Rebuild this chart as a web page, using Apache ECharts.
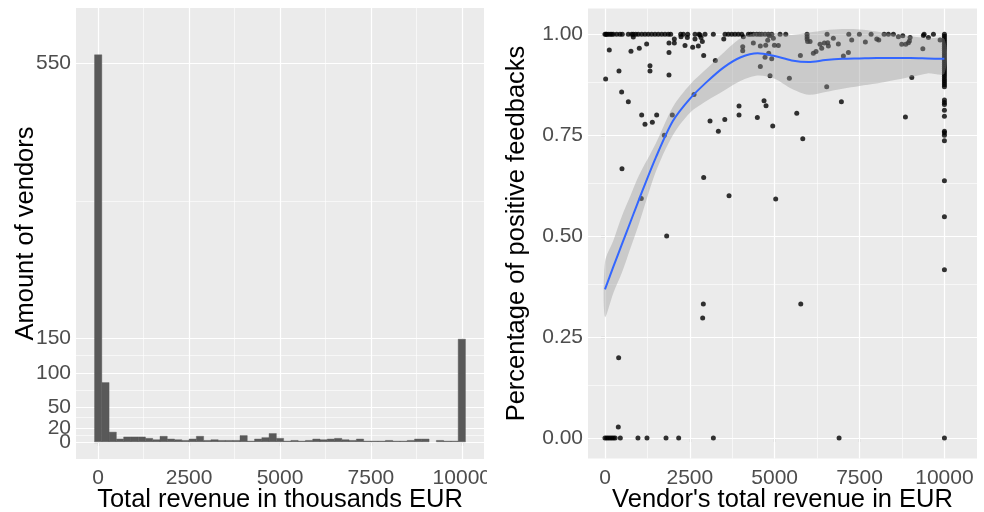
<!DOCTYPE html>
<html><head><meta charset="utf-8">
<script src="https://cdn.jsdelivr.net/npm/echarts@6/dist/echarts.min.js"></script>
<style>html,body{margin:0;padding:0;background:#fff}#c{width:984px;height:512px}</style>
</head><body><div id="c"></div>
<script>
// ---------- Left: histogram of total revenue (thousands EUR) ----------
const binCenters = [0,200,400,600,800,1000,1200,1400,1600,1800,2000,2200,2400,2600,2800,3000,3200,3400,3600,3800,4000,4200,4400,4600,4800,5000,5200,5400,5600,5800,6000,6200,6400,6600,6800,7000,7200,7400,7600,7800,8000,8200,8400,8600,8800,9000,9200,9400,9600,9800,10000];
const binCounts = [562,86,14,4,7,7,7,5,3,8, 4,3,2,4,8,2,3,2,2,2, 9,1,4,6,12,5,1,2,1,2, 4,3,4,5,3,2,4,1,1,1, 2,1,1,2,4,4,0,2,1,1, 149];
const binWidth = 200;
const histXTicks = [0,2500,5000,7500,10000];
const histXMinor = [1250,3750,6250,8750];
const histYTicks = [0,20,50,100,150,550];
const histYMinor = [10,35,75,125,350];

// ---------- Right: scatter of revenue vs share of positive feedback ----------
const topRowRevenue = [0,29,50,97,150,197,245,345,442,510,687,787,834,905,981,1082,1179,1276,1376,1474,1571,1671,1768,1866,1936,2231,2308,2437,2653,2770,2947,3192,3537,3634,3734,3831,3929,4029,4223,4294,4371,4471,4548,4618,4716,4813,4913,5158,5326,5953,6543,7183,7495,7840,8223,8350,8497,9402,9676];
const zeroRowRevenue = [0,50,100,150,200,250,300,452,972,1238,1798,2171,3193,6897];
const maxRevenueShares = [1,.995,.99,.985,.98,.975,.97,.965,.96,.955,.95,.945,.94,.935,.93,.925,.92,.915,.91,.905,.9,.895,.89,.885,.88,.875,.87,.837,.831,.826,.812,.797,.76,.756,.75,.736,.637,.548,.417,0];
const maxRevenue = 10000;
const otherVendors = [[20,.889],[127,.961],[413,.909],[491,.857],[688,.833],[766,.958],[834,.993],[1011,.965],[1081,.800],[1179,.777],[1228,.976],[1326,.922],[1326,.909],[1395,.782],[1523,.800],[501,.667],[1070,.593],[1748,.750],[1818,.500],[1886,.899],[1886,.955],[1886,.978],[1984,.800],[2043,.978],[2043,.988],[2240,.994],[2358,.972],[2426,.992],[2584,.968],[2623,.851],[2652,.988],[2750,.971],[2800,.998],[2830,.992],[2868,.982],[2908,.947],[2908,.645],[2898,.332],[2878,.297],[3095,.785],[3251,.935],[3340,.760],[3530,.789],[3500,.988],[3655,.600],[3949,.822],[3949,.800],[4058,.969],[4058,.959],[4076,.994],[4371,.978],[4489,.794],[4577,.920],[4577,.971],[4686,.835],[4745,.823],[4716,.943],[4735,.973],[4795,.985],[4824,.953],[4843,.996],[4863,.897],[4913,.939],[4942,.773],[4961,.990],[4991,.973],[5030,.592],[5108,.972],[5432,.891],[5650,.804],[5757,.947],[5768,.332],[5827,.741],[5954,.994],[5954,.988],[5970,.982],[6042,.982],[6139,.953],[6218,.957],[6336,.975],[6385,.965],[6463,.978],[6532,.870],[6562,.979],[6581,.971],[6728,.990],[6876,.976],[6965,.833],[7024,.946],[7171,.955],[7269,.986],[7671,.981],[8007,.988],[8066,.986],[8644,.994],[8743,.975],[8773,.996],[8851,.795],[8861,.975],[8939,.979],[8969,.983],[8989,.992],[9039,.893],[9364,.964],[9381,.997],[9529,.992],[9873,.986],[403,.199],[393,.027]];

const smoothRevenue = [0,250,500,750,1000,1500,2000,2500,3000,3500,4000,4500,5000,5500,6000,6500,7000,7500,8000,8500,9000,9500,10000];
const smoothFit   = [.368,.425,.48,.535,.59,.695,.785,.84,.882,.918,.943,.953,.946,.935,.931,.936,.939,.940,.941,.941,.941,.940,.939];
const smoothUpper = [.436,.49,.55,.60,.65,.73,.82,.875,.915,.955,.99,1.004,1.003,.998,1.004,1.010,1.013,1.012,1.007,1.0,.995,.99,.988];
const smoothLower = [.300,.36,.41,.47,.53,.66,.75,.805,.835,.86,.885,.898,.89,.865,.85,.857,.865,.872,.878,.886,.894,.903,.903];
const fbXTicks = [0,2500,5000,7500,10000];
const fbXMinor = [1250,3750,6250,8750];
const fbYTicks = [0,0.25,0.5,0.75,1];
const fbYMinor = [0.125,0.375,0.625,0.875];

// ---------- build ----------
const FONT = 'Liberation Sans';
const points = [];
topRowRevenue.forEach(x => points.push([x, 1]));
zeroRowRevenue.forEach(x => points.push([x, 0]));
maxRevenueShares.forEach(y => points.push([maxRevenue, y]));
otherVendors.forEach(p => points.push(p));

function gridMarks(xMaj, xMin, yMaj, yMin) {
  const d = [];
  xMin.forEach(v => d.push({xAxis: v, lineStyle: {width: 0.6}}));
  yMin.forEach(v => d.push({yAxis: v, lineStyle: {width: 0.6}}));
  xMaj.forEach(v => d.push({xAxis: v, lineStyle: {width: 1.2}}));
  yMaj.forEach(v => d.push({yAxis: v, lineStyle: {width: 1.2}}));
  return d;
}
function gridSeries(i, data) {
  return {type: 'scatter', xAxisIndex: i, yAxisIndex: i, data: [], z: 1, silent: true,
    markLine: {z: 1, silent: true, animation: false, symbol: ['none','none'], label: {show: false},
      emphasis: {disabled: true},
      lineStyle: {color: '#ffffff', type: 'solid'}, data: data}};
}
const tickStyle = {show: true, length: 4, inside: false, lineStyle: {color: '#333333', width: 1.1}};
const lblStyle = {color: '#4D4D4D', fontSize: 21, fontFamily: FONT, hideOverlap: false, showMinLabel: true, showMaxLabel: true, interval: 0};
const nameStyle = {color: '#000000', fontSize: 25.5, fontFamily: FONT};
// left y labels split over two overlaid axes so that the close "0" and "20" labels both stay visible
const histYLabelsA = histYTicks.filter((v, i) => i % 2 === 0);
const histYLabelsB = histYTicks.filter((v, i) => i % 2 === 1);

const chart = echarts.init(document.getElementById('c'));
chart.setOption({
  animation: false,
  backgroundColor: '#ffffff',
  grid: [
    {left: 76, top: 8, width: 408, height: 451, show: true, backgroundColor: '#EBEBEB', borderWidth: 0, containLabel: false, outerBoundsMode: 'none'},
    {left: 588, top: 8.5, width: 389, height: 450, show: true, backgroundColor: '#EBEBEB', borderWidth: 0, containLabel: false, outerBoundsMode: 'none'}
  ],
  xAxis: [
    {type: 'value', gridIndex: 0, min: -610, max: 10610,
      axisLine: {show: false}, splitLine: {show: false},
      axisTick: Object.assign({customValues: histXTicks}, tickStyle),
      axisLabel: Object.assign({customValues: histXTicks, margin: 9, formatter: v => String(v)}, lblStyle),
      name: 'Total revenue in thousands EUR', nameLocation: 'middle', nameGap: 28, nameMoveOverlap: false, nameTextStyle: nameStyle},
    {type: 'value', gridIndex: 1, min: -500, max: 10960,
      axisLine: {show: false}, splitLine: {show: false},
      axisTick: Object.assign({customValues: fbXTicks}, tickStyle),
      axisLabel: Object.assign({customValues: fbXTicks, margin: 9, formatter: v => String(v)}, lblStyle),
      name: "Vendor's total revenue in EUR", nameLocation: 'middle', nameGap: 28, nameMoveOverlap: false, nameTextStyle: nameStyle}
  ],
  yAxis: [
    {type: 'value', gridIndex: 0, min: -25, max: 630,
      axisLine: {show: false}, splitLine: {show: false},
      axisTick: Object.assign({customValues: histYTicks}, tickStyle),
      axisLabel: Object.assign({customValues: histYLabelsA, margin: 5, formatter: v => String(v)}, lblStyle),
      name: 'Amount of vendors', nameLocation: 'middle', nameGap: 37, nameMoveOverlap: false, nameTextStyle: nameStyle},
    {type: 'value', gridIndex: 1, min: -0.0507, max: 1.0637,
      axisLine: {show: false}, splitLine: {show: false},
      axisTick: Object.assign({customValues: fbYTicks}, tickStyle),
      axisLabel: Object.assign({customValues: fbYTicks, margin: 5, formatter: v => v.toFixed(2)}, lblStyle),
      name: 'Percentage of positive feedbacks', nameLocation: 'middle', nameGap: 58, nameMoveOverlap: false, nameTextStyle: nameStyle},
    {type: 'value', gridIndex: 0, min: -25, max: 630, position: 'left', offset: 0,
      axisLine: {show: false}, splitLine: {show: false}, axisTick: {show: false},
      axisLabel: Object.assign({customValues: histYLabelsB, margin: 5, formatter: v => String(v)}, lblStyle)}
  ],
  series: [
    gridSeries(0, gridMarks(histXTicks, histXMinor, histYTicks, histYMinor)),
    gridSeries(1, gridMarks(fbXTicks, fbXMinor, fbYTicks, fbYMinor)),
    {type: 'custom', xAxisIndex: 0, yAxisIndex: 0, z: 3,
      data: binCenters.map((c, i) => [c, binCounts[i]]),
      encode: {x: 0, y: 1},
      renderItem: function (params, api) {
        const c = api.value(0), n = api.value(1);
        if (!n) return null;
        const p0 = api.coord([c - binWidth / 2, 0]);
        const p1 = api.coord([c + binWidth / 2, n]);
        return {type: 'rect', shape: {x: p0[0], y: p1[1], width: p1[0] - p0[0], height: p0[1] - p1[1]},
          style: {fill: '#595959', stroke: '#595959', lineWidth: 0.4}};
      }},
    {type: 'scatter', xAxisIndex: 1, yAxisIndex: 1, z: 3, data: points, symbol: 'circle', symbolSize: 5,
      itemStyle: {color: '#000000'}, silent: true},
    {type: 'custom', xAxisIndex: 1, yAxisIndex: 1, z: 4,
      data: smoothRevenue.map((x, i) => [x, smoothLower[i], smoothUpper[i]]),
      encode: {x: 0, y: [1, 2]},
      renderItem: function (params, api) {
        if (params.dataIndex !== 0) return null;
        const pts = [];
        for (let i = 0; i < smoothRevenue.length; i++) pts.push(api.coord([smoothRevenue[i], smoothUpper[i]]));
        for (let i = smoothRevenue.length - 1; i >= 0; i--) pts.push(api.coord([smoothRevenue[i], smoothLower[i]]));
        return {type: 'polygon', shape: {points: pts, smooth: 0.3}, style: {fill: 'rgba(153,153,153,0.4)'}};
      }},
    {type: 'line', xAxisIndex: 1, yAxisIndex: 1, z: 5, data: smoothRevenue.map((x, i) => [x, smoothFit[i]]),
      smooth: 0.3, symbol: 'none', lineStyle: {color: '#3366FF', width: 2}, silent: true}
  ],
  graphic: [
    {type: 'rect', left: 487, top: 461, shape: {width: 14, height: 26}, style: {fill: '#ffffff'}, z: 100, silent: true}
  ]
});
</script>
</body></html>
